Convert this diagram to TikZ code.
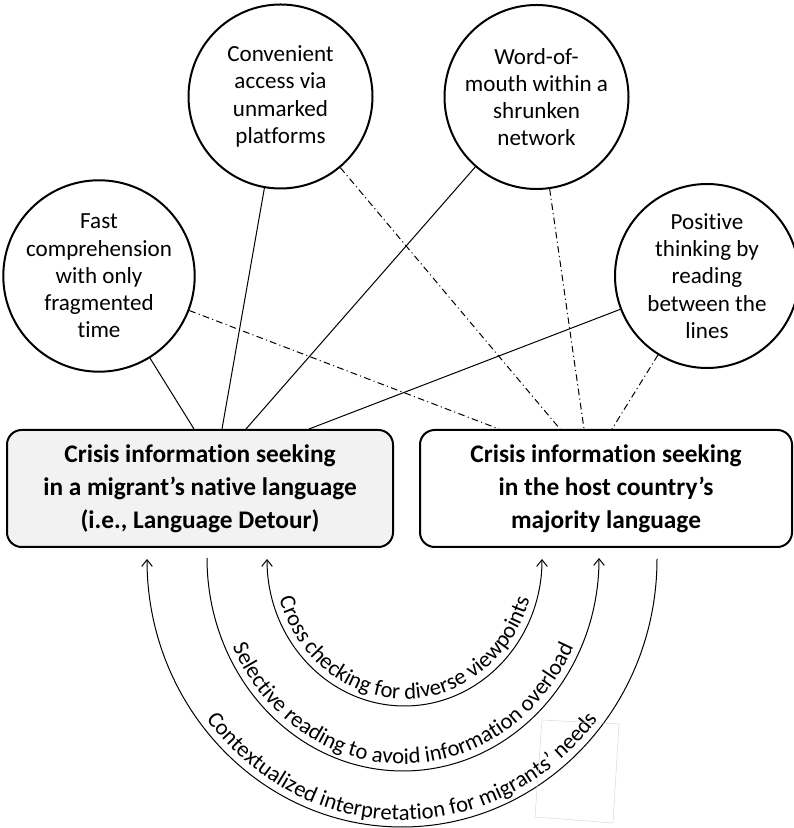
\documentclass[tikz,border=0pt]{standalone}
\usepackage{fontspec}
\setmainfont{Carlito}[Ligatures=NoCommon]
\usetikzlibrary{calc,arrows.meta,decorations.text}

\begin{document}
\begin{tikzpicture}[
	x=0.75pt, y=0.75pt,
	factor/.style={
		circle, draw, line width=1.5pt,
		minimum size=138pt, inner sep=0pt,
		align=center, font=\fontsize{17.3}{20.4}\selectfont
	},
	seeking/.style={
		rectangle, draw, line width=1.5pt, rounded corners=11pt,
		minimum height=87.75pt, inner sep=2pt,
		align=center, font=\fontsize{19}{24.75}\selectfont\bfseries
	},
	tie/.style={line width=0.75pt},
	loose/.style={line width=0.75pt, dash pattern=on 5pt off 2.5pt on 0.8pt off 2.5pt},
	loop/.style={line width=0.75pt},
	along/.style={decorate, decoration={text along path, text align=center,
		text={|\fontsize{17}{20}\selectfont|#1}}},
	>={Straight Barb[length=5pt,width=8pt]}
	]
	\useasboundingbox (0,0) rectangle (793,828);
	\node[factor] (fast) at (99,552) {Fast\\comprehension\\with only\\fragmented\\time};
	\node[factor] (conv) at (280.5,731.5) {Convenient\\access via\\unmarked\\platforms};
	\node[factor] (word) at (536.5,731) {Word-of-\\mouth within a\\shrunken\\network};
	\node[factor] (posi) at (707,552) {Positive\\thinking by\\reading\\between the\\lines};
	\node[seeking, fill={rgb,255:red,242;green,242;blue,242}, minimum width=289.5pt] (native) at (200,339.5)
		{Crisis information seeking\\in a migrant’s native language\\(i.e., Language Detour)};
	\node[seeking, minimum width=279pt] (host) at (606,339.5)
		{Crisis information seeking\\in the host country’s\\majority language};
	\foreach \name/\dx in {fast/188,conv/216,word/240,posi/303}
	{
		\coordinate (n-\name) at ($(native.north west)+(\dx,0)$);
		\draw[tie] (\name) -- (n-\name);
	}
	\foreach \name/\dx in {fast/80,conv/141,word/165,posi/193}
	{
		\coordinate (h-\name) at ($(host.north west)+(\dx,0)$);
		\draw[loose] (\name) -- (h-\name);
	}
	\coordinate (outer) at ($(native.south west)+(141,-11)$);
	\coordinate (middle) at ($(native.south west)+(201,-10)$);
	\coordinate (inner) at ($(native.south west)+(261,-11)$);
	\draw[loop,<-] (outer) arc[start angle=180,end angle=360,x radius=255,y radius=268];
	\draw[loop,->] (middle) arc[start angle=180,end angle=360,x radius=196,y radius=213];
	\draw[loop,<->] (inner) arc[start angle=180,end angle=360,x radius=137.5,y radius=147];
	\path[along={Contextualized interpretation for migrants’ needs}]
		($(outer)+(7,0)$) arc[start angle=180,end angle=360,x radius=248,y radius=261];
	\path[along={Selective reading to avoid information overload}]
		($(middle)+(7,0)$) arc[start angle=180,end angle=360,x radius=189,y radius=206];
	\path[along={Cross checking for diverse viewpoints}]
		($(inner)+(7,0)$) arc[start angle=180,end angle=360,x radius=130.5,y radius=140];
	\draw[gray!30, line width=0.4pt] (542,108) -- (619,104) -- (613,5) -- (535,11) -- cycle;
\end{tikzpicture}
\end{document}
